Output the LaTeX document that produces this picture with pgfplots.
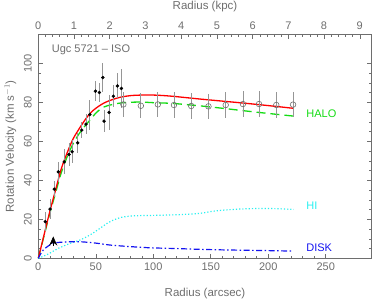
\documentclass[border=0pt]{standalone}
\usepackage{pgfplots}
\pgfplotsset{compat=1.18}
\usepackage{fontspec}
\setmainfont{Liberation Sans}
\usetikzlibrary{arrows.meta}
\definecolor{axgray}{RGB}{110,110,110}
\definecolor{ebgray}{RGB}{150,150,150}
\definecolor{halogreen}{RGB}{20,220,20}
\definecolor{hicyan}{RGB}{40,240,240}
\definecolor{diskblue}{RGB}{20,20,240}
\begin{document}
\begin{tikzpicture}
\useasboundingbox (-38.3pt,-41.7pt) rectangle (336.7pt,258.3pt);
\begin{axis}[
  at={(0pt,0pt)}, anchor=south west,
  width=333.4pt, height=224pt, scale only axis,
  xmin=0, xmax=290, ymin=0, ymax=115,
  xtick={0,50,...,250}, minor x tick num=4,
  ytick={0,20,...,100}, minor y tick num=3,
  xtick pos=lower,
  tick align=inside,
  major tick length=4.5pt, minor tick length=2.5pt,
  axis line style={axgray, line width=0.6pt},
  every tick/.style={axgray, line width=0.5pt},
  tick label style={font=\fontsize{11}{13}\selectfont, text=axgray},
  /pgf/number format/assume math mode=true,
  yticklabel style={rotate=90, anchor=south, yshift=3pt},
  xticklabel style={yshift=-1pt},
  xlabel={Radius (arcsec)},
  ylabel={Rotation Velocity (km s$^{-1}$)},
  label style={font=\fontsize{11.5}{13}\selectfont, text=axgray},
  xlabel style={at={(axis description cs:0.5,0)}, anchor=center, yshift=-35pt},
  ylabel style={at={(axis description cs:0,0.5)}, anchor=center, rotate=0, xshift=0pt, yshift=28pt},
  clip=false,
]
% halo
\addplot[halogreen, line width=1.3pt, dash pattern=on 9pt off 5pt, smooth] coordinates {
(0,0) (5,11.5) (10,23) (15,33.5) (20,44) (25,52) (30,58.5) (35,63.5) (40,67.5) (45,71) (50,74.5) (55,77) (60,78.3) (70,79.6) (80,80.1) (90,80.2) (100,79.9) (117,79.5) (140,78.3) (162,76.9) (190,75) (222,73)};
% total
\addplot[red, line width=1.3pt, smooth] coordinates {
(0,0) (5,12) (10,24) (15,35) (20,46) (25,54) (30,61) (35,66) (40,70.5) (45,74.4) (50,77) (55,79) (60,80.5) (70,82.5) (80,83.5) (90,83.8) (100,83.8) (110,83.5) (120,83) (140,81.8) (160,80.7) (180,79.6) (200,78.4) (222,77)};
% HI
\addplot[hicyan, line width=1.2pt, dotted, smooth] coordinates {
(0,0) (8,2) (17.4,5.1) (27,7.5) (36.3,9.4) (45,12) (53.7,15.4) (60,18) (65.3,19.6) (72,21) (82.7,21.8) (97,22) (111.8,22.2) (126,22.5) (140.8,23.1) (155,24.4) (175.7,25.3) (199,25.6) (222,25.1)};
% disk
\addplot[diskblue, line width=1.2pt, dash pattern=on 6pt off 2.5pt on 1.5pt off 2.5pt, smooth] coordinates {
(0,0) (4.4,4.3) (13,7.7) (25,8.4) (36.3,8.5) (50,7.8) (62.5,6.8) (80,6) (97,5.4) (120,5) (141,4.6) (162,4.3) (184,4.1) (204,3.9) (222,3.7)};
% filled points
\addplot[only marks, mark=*, mark size=1.5pt, black,
  error bars/.cd, y dir=both, y explicit, error mark=none,
  error bar style={ebgray, line width=0.8pt}] coordinates {
(6.1,18.8) +- (0,5)
(10.2,25.3) +- (0,5)
(13.9,35.5) +- (0,4)
(17.4,44.4) +- (0,5)
(22.6,49.5) +- (0,6.4)
(26.7,53.3) +- (0,6)
(29.4,54.7) +- (0,6)
(34.3,59.3) +- (0,5)
(37.8,65.8) +- (0,4)
(41.5,68.9) +- (0,5)
(44.8,73.8) +- (0,7.7)
(49.7,85.8) +- (0,5)
(53.1,85.1) +- (0,4.7)
(56.1,92.8) +- (0,7.5)
(57.2,70.4) +- (0,5.8)
(61.6,74.9) +- (0,9)
(65.3,83.2) +- (0,5.7)
(68.8,88.5) +- (0,6.4)
(72.3,87.2) +- (0,10)
};
% open circles
\addplot[only marks, mark=o, mark size=2.8pt, mark options={line width=0.6pt}, axgray,
  error bars/.cd, y dir=both, y explicit, error mark=none,
  error bar style={ebgray, line width=0.8pt}] coordinates {
(74,79.0) +- (0,6.5)
(89.2,78.3) +- (0,6.5)
(104,79.0) +- (0,6.5)
(118,78.7) +- (0,6.5)
(133,78.2) +- (0,6.5)
(148,78.0) +- (0,6.5)
(163,78.7) +- (0,6.5)
(178,79.2) +- (0,6.5)
(192,79.2) +- (0,6.5)
(207,78.7) +- (0,6.5)
(221.6,78.9) +- (0,6.5)
};
% arrow marker
\addplot[black, line width=0.6pt, -{Stealth[length=9pt,width=8pt,inset=3pt]}] coordinates {(13,6.3) (13,11.2)};
\node[anchor=west, text=axgray, font=\fontsize{11}{13}\selectfont] at (axis description cs:0.03,0.93) {Ugc 5721 -- ISO};
\node[anchor=west, text=halogreen, font=\fontsize{11}{13}\selectfont, inner sep=0pt] at (axis cs:233,74.4) {HALO};
\node[anchor=west, text=hicyan, font=\fontsize{11}{13}\selectfont, inner sep=0pt] at (axis cs:233,26.8) {HI};
\node[anchor=west, text=diskblue, font=\fontsize{11}{13}\selectfont, inner sep=0pt] at (axis cs:233,5.6) {DISK};
\end{axis}
\begin{axis}[
  at={(0pt,0pt)}, anchor=south west,
  width=333.4pt, height=224pt, scale only axis,
  xmin=0, xmax=9.334, ymin=0, ymax=115,
  axis x line*=top, axis y line=none,
  xtick={0,1,...,9}, minor x tick num=4,
  tick align=inside,
  major tick length=4.5pt, minor tick length=2.5pt,
  axis line style={axgray, line width=0.6pt},
  every tick/.style={axgray, line width=0.5pt},
  tick label style={font=\fontsize{11}{13}\selectfont, text=axgray},
  /pgf/number format/assume math mode=true,
  xticklabel style={yshift=1pt},
  xlabel={Radius (kpc)},
  label style={font=\fontsize{11.5}{13}\selectfont, text=axgray},
  xlabel style={at={(axis description cs:0.5,1)}, anchor=center, yshift=27.6pt},
]
\end{axis}
\end{tikzpicture}
\end{document}
